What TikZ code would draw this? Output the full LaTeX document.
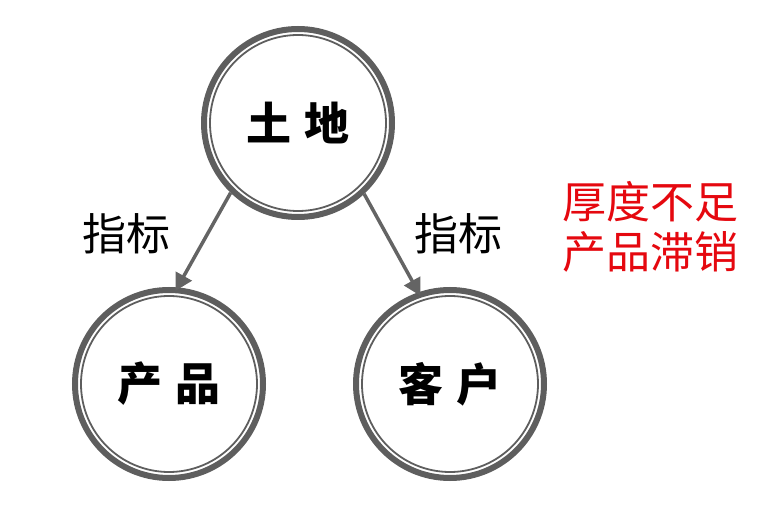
\documentclass[tikz,border=0pt]{standalone}
\usepackage{fontspec}
\newfontfamily\cjk{Noto Sans CJK SC}
\usetikzlibrary{arrows.meta}
\definecolor{ringgray}{HTML}{5E5E5E}
\definecolor{linkgray}{HTML}{646464}
\definecolor{warnred}{HTML}{E5080F}

\begin{document}
\begin{tikzpicture}[x=1pt,y=-1pt,
    topic/.style={circle,draw=ringgray,line width=6pt,minimum size=188pt,inner sep=0pt,
        font=\cjk\bfseries\fontsize{45}{45}\selectfont},
    link/.style={draw=linkgray,line width=3.5pt,-{Triangle[length=17pt,width=18pt]}},
    tag/.style={font=\cjk\fontsize{44}{50}\selectfont}]
    \useasboundingbox (0,0) rectangle (780,521);

    % three topics
    \node[topic] (land) at (298,123) {土\hspace{13pt}地};
    \node[topic] (product) at (169,384) {产\hspace{13pt}品};
    \node[topic] (client) at (450,384) {客\hspace{13pt}户};

    % thin inner rings
    \foreach \n in {land,product,client}
        \draw[ringgray,line width=1.8pt] (\n.center) circle (88pt);

    % links
    \draw[link,shorten >=-4pt] (land.226) -- (product.85);
    \draw[link,shorten >=-4pt] (land.313) -- (client.109);
    \node[tag] (idxl) at (126,234) {指标};
    \node[tag] (idxr) at (458,234) {指标};

    % note
    \node[tag,text=warnred,align=center] (lack) at (650,227) {厚度不足\\产品滞销};
\end{tikzpicture}
\end{document}
